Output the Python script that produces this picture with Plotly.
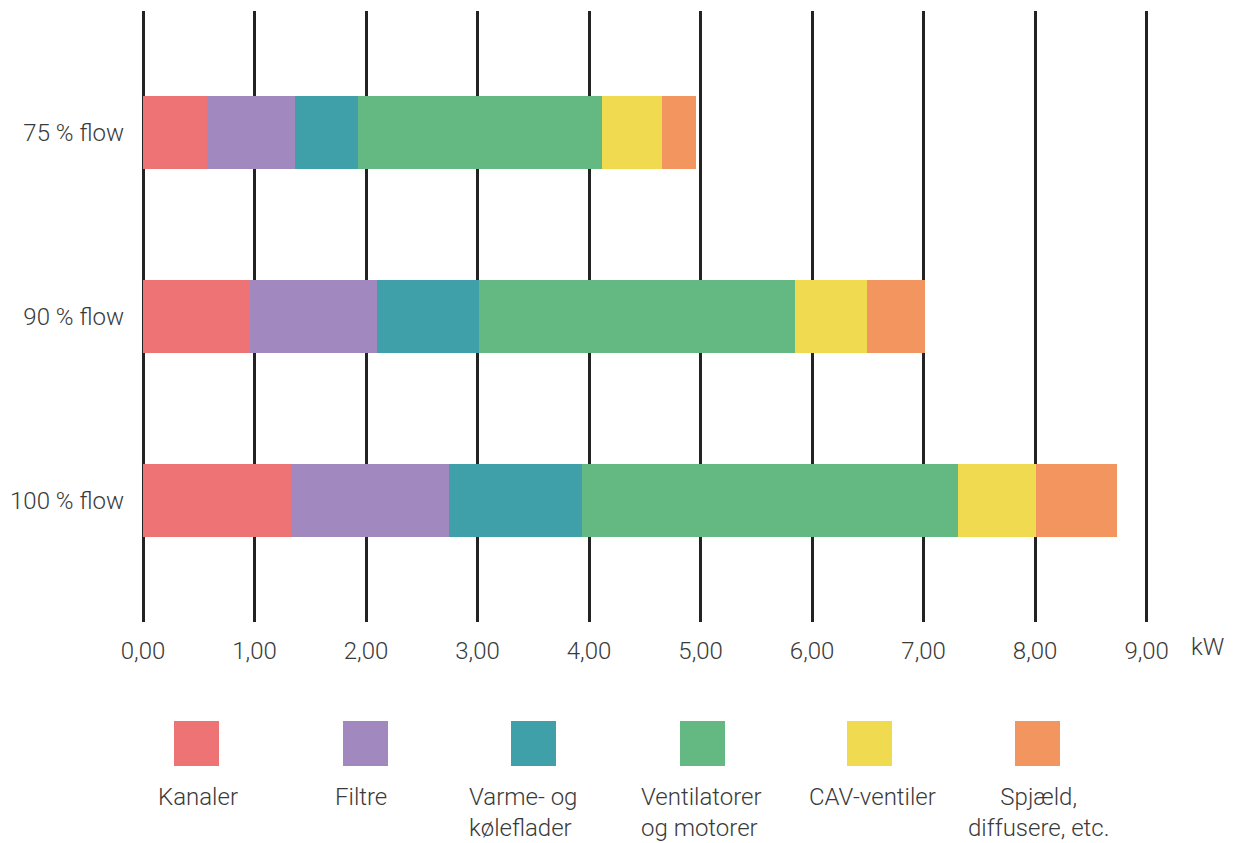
import plotly.graph_objects as go

# Pressure-loss energy split per component, kW, at three airflow levels
flows = ["75 % flow", "90 % flow", "100 % flow"]
components = ["Kanaler", "Filtre", "Varme- og<br>køleflader",
              "Ventilatorer<br>og motorer", "CAV-ventiler", "Spjæld,<br>diffusere, etc."]
colors = ["#EE7375", "#A189BF", "#40A0A9", "#64B882", "#F0DA50", "#F2955E"]

kanaler = [0.57, 0.96, 1.33]
filtre = [0.79, 1.14, 1.41]
varme = [0.57, 0.91, 1.20]
ventilatorer = [2.19, 2.84, 3.37]
cav = [0.53, 0.64, 0.70]
spjaeld = [0.31, 0.52, 0.72]
series = [kanaler, filtre, varme, ventilatorer, cav, spjaeld]

x_ticks = [0, 1, 2, 3, 4, 5, 6, 7, 8, 9]

W, H = 1233, 843
XMAX = 9.03
L, T, B = 143, 11, 221
R = W - L - round(1003.7 * XMAX / 9)
FONT = "Roboto"
TXT = "#3a3a3a"
FS = 24

fig = go.Figure()
for name, vals, col in zip(components, series, colors):
    fig.add_trace(go.Bar(
        y=flows, x=vals, orientation="h", name=name,
        marker=dict(color=col, line=dict(width=0)),
        showlegend=False,
    ))

pw, ph = W - L - R, H - T - B


def px(xp):
    return (xp - L) / pw


def py(yp):
    return (H - B - yp) / ph


# Custom legend: square swatch with the label underneath
sw_centers = [196.5, 365.5, 533.5, 702.5, 869.5, 1037.5]
lab_centers = [197.5, 361, 522.5, 701.5, 872, 1038]
lab_align = ["center", "center", "left", "left", "center", "center"]
shapes = []
annotations = []
for name, col, cx, lx, al in zip(components, colors, sw_centers, lab_centers, lab_align):
    shapes.append(dict(type="rect", xref="paper", yref="paper",
                       x0=px(cx - 22.5), x1=px(cx + 22.5),
                       y0=py(766), y1=py(721),
                       fillcolor=col, line=dict(width=0), layer="above"))
    annotations.append(dict(xref="paper", yref="paper", x=px(lx), y=py(781),
                            xanchor="center", yanchor="top", align=al,
                            text=name, showarrow=False,
                            font=dict(family=FONT, size=FS, color=TXT, weight=300)))

annotations.append(dict(xref="paper", yref="paper", x=px(1207), y=py(647),
                        xanchor="center", yanchor="middle", text="kW", showarrow=False,
                        font=dict(family=FONT, size=FS, color=TXT, weight=300)))

fig.update_layout(
    width=W, height=H,
    margin=dict(l=L, r=R, t=T, b=B, pad=0),
    barmode="stack", bargap=0.6,
    plot_bgcolor="white", paper_bgcolor="white",
    separators=", ",
    shapes=shapes, annotations=annotations,
    font=dict(family=FONT, color=TXT, weight=300),
    xaxis=dict(
        range=[0, XMAX], tickvals=x_ticks, tickformat=".2f",
        showgrid=True, gridcolor="#232323", gridwidth=3,
        zeroline=True, zerolinecolor="#232323", zerolinewidth=3,
        showline=False, ticks="", ticklabelstandoff=12,
        tickfont=dict(family=FONT, size=FS, color=TXT, weight=300),
    ),
    yaxis=dict(
        type="category", categoryorder="array", categoryarray=flows,
        range=[2.66, -0.66], showgrid=False, zeroline=False, showline=False,
        ticks="", ticklabelstandoff=18,
        tickfont=dict(family=FONT, size=FS, color=TXT, weight=300),
    ),
)

fig.write_html("out.html")
